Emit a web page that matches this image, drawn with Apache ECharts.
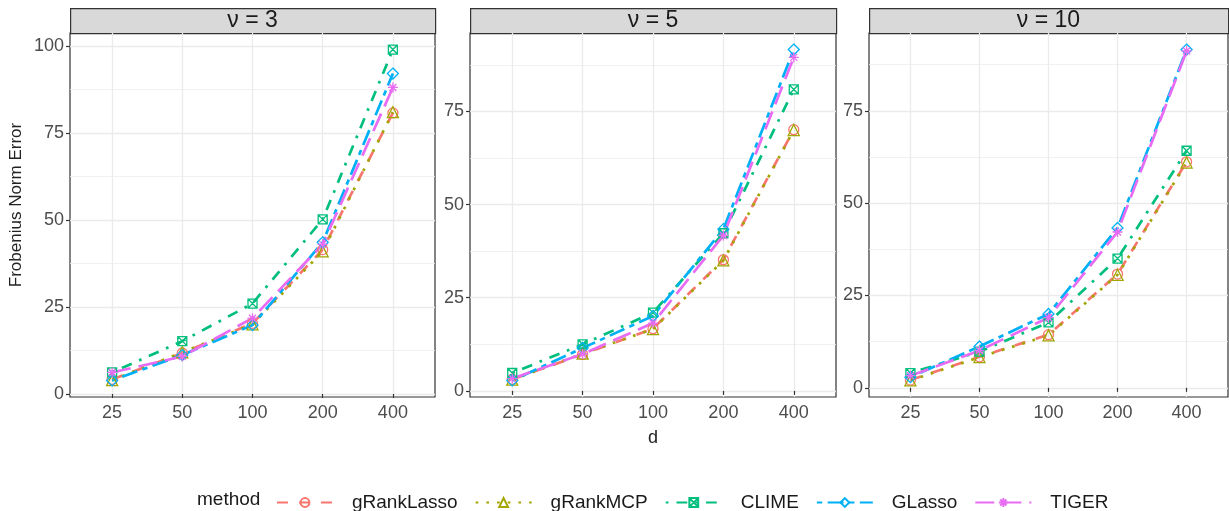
<!DOCTYPE html>
<html lang="en">

<head>
    <meta charset="UTF-8">
    <title>Frobenius Norm Error</title>
    <script src="https://cdn.jsdelivr.net/npm/echarts@6/dist/echarts.min.js"></script>
    <style>
        html, body { margin: 0; padding: 0; background: #fff; }
        #chart { width: 1229px; height: 511px; }
    </style>
</head>

<body>
    <div id="chart"></div>

    <script>
        // data
        var dims = ['25', '50', '100', '200', '400'];
        var panels = ['\u03bd = 3', '\u03bd = 5', '\u03bd = 10'];
        var methods = ['gRankLasso', 'gRankMCP', 'CLIME', 'GLasso', 'TIGER'];

        // one array per panel (nu = 3, 5, 10)
        var gRankLasso = [
            [4.2, 11.8, 20.3, 41.5, 80.8],
            [3.1, 9.8, 16.7, 35.2, 70.1],
            [2.1, 8.4, 14.4, 30.8, 61.2]
        ];
        var gRankMCP = [
            [4.0, 12.0, 20.0, 41.0, 81.0],
            [3.0, 10.0, 16.6, 35.0, 70.0],
            [2.0, 8.3, 14.2, 30.6, 61.0]
        ];
        var CLIME = [
            [6.2, 15.2, 26.0, 50.2, 99.0],
            [4.8, 12.5, 21.0, 42.3, 80.9],
            [4.0, 9.8, 17.7, 35.0, 64.2]
        ];
        var GLasso = [
            [3.9, 11.2, 19.8, 43.6, 92.1],
            [2.8, 11.5, 20.1, 43.4, 91.6],
            [2.9, 11.2, 20.0, 43.3, 91.6]
        ];
        var TIGER = [
            [6.2, 10.8, 21.8, 43.0, 88.1],
            [3.3, 9.9, 18.2, 41.7, 89.5],
            [3.3, 10.1, 19.0, 42.2, 91.2]
        ];
        var yMajor = [[0, 25, 50, 75, 100], [0, 25, 50, 75], [0, 25, 50, 75]];
        var yMinor = [[12.5, 37.5, 62.5, 87.5], [12.5, 37.5, 62.5, 87.5], [12.5, 37.5, 62.5, 87.5]];

        var values = [gRankLasso, gRankMCP, CLIME, GLasso, TIGER];
        var colors = ['#F8766D', '#A3A500', '#00BF7D', '#00B0F6', '#E76BF3'];
        var dashes = [[11, 11], [2.7, 8], [2.7, 8, 10.8, 8], [5.4, 5.4, 16, 5.4], [19, 8]];
        var symbols = [
            'path://M0,-1A1,1 0 1,1 0,1A1,1 0 1,1 0,-1Z',
            'path://M0,-1L1,0.73L-1,0.73Z',
            'path://M-1,-1L1,-1L1,1L-1,1ZM-1,-1L1,1M1,-1L-1,1',
            'path://M0,-1L1,0L0,1L-1,0Z',
            'path://M-1,0L1,0M0,-1L0,1M-0.7,-0.7L0.7,0.7M0.7,-0.7L-0.7,0.7'
        ];
        var symSizes = [10, 11, 9, 11, 10];

        // panel boxes
        var boxes = [
            { left: 70, width: 365 },
            { left: 470, width: 366 },
            { left: 869, width: 359 }
        ];
        var plotTop = 33, plotHeight = 364;
        var font = 'Liberation Sans, Arial, sans-serif';

        var myChart = echarts.init(document.getElementById('chart'));

        var grid = [], xAxis = [], yAxis = [], series = [], graphic = [];

        boxes.forEach(function (b, p) {
            grid.push({
                left: b.left, top: plotTop, width: b.width, height: plotHeight,
                show: true, borderColor: '#333333', borderWidth: 1.2, backgroundColor: '#fff'
            });

            // ggplot-like 5% expansion
            var all = [];
            values.forEach(function (m) { all = all.concat(m[p]); });
            var lo = Math.min.apply(null, all), hi = Math.max.apply(null, all);
            var pad = (hi - lo) * 0.05;

            xAxis.push({
                type: 'value', gridIndex: p, min: 0.4, max: 5.6,
                name: p === 1 ? 'd' : '', nameLocation: 'middle', nameGap: 32,
                nameTextStyle: { fontFamily: font, fontSize: 18, color: '#222' },
                axisLine: { show: false },
                axisTick: { show: true, length: 4, customValues: [1, 2, 3, 4, 5], lineStyle: { color: '#333', width: 1.2 } },
                axisLabel: {
                    customValues: [1, 2, 3, 4, 5], margin: 7,
                    fontFamily: font, fontSize: 18, color: '#4D4D4D',
                    formatter: function (v) { return dims[Math.round(v) - 1]; }
                },
                splitLine: { show: true, lineStyle: { color: '#EBEBEB', width: 1.3 } }
            });
            // major y axis
            yAxis.push({
                type: 'value', gridIndex: p, min: lo - pad, max: hi + pad,
                name: p === 0 ? 'Frobenius Norm Error' : '', nameLocation: 'middle', nameGap: 45,
                nameTextStyle: { fontFamily: font, fontSize: 17, color: '#222', padding: [0, 0, 0, 20] },
                axisLine: { show: false },
                axisTick: { show: true, length: 4, customValues: yMajor[p], lineStyle: { color: '#333', width: 1.2 } },
                axisLabel: { customValues: yMajor[p], margin: 6, fontFamily: font, fontSize: 18, color: '#4D4D4D' },
                splitLine: { show: true, lineStyle: { color: '#EBEBEB', width: 1.3 } }
            });
            // minor grid lines
            yAxis.push({
                type: 'value', gridIndex: p, min: lo - pad, max: hi + pad,
                axisLine: { show: false },
                axisTick: { show: false, customValues: yMinor[p] },
                axisLabel: { show: false },
                splitLine: { show: true, lineStyle: { color: '#EEEEEE', width: 0.8 } }
            });

            methods.forEach(function (name, k) {
                series.push({
                    name: name, type: 'line', xAxisIndex: p, yAxisIndex: 2 * p,
                    data: values[k][p].map(function (v, i) { return [i + 1, v]; }),
                    symbol: symbols[k], symbolSize: symSizes[k],
                    itemStyle: { color: 'none', borderColor: colors[k], borderWidth: 1.3 },
                    lineStyle: { color: colors[k], width: 2.7, type: dashes[k], cap: 'butt' },
                    emphasis: { disabled: true },
                    animation: false
                });
            });

            // strip
            graphic.push({
                type: 'rect', left: b.left, top: 8,
                shape: { width: b.width, height: 25 },
                style: { fill: '#D9D9D9', stroke: '#333333', lineWidth: 1.2 }
            });
            graphic.push({
                type: 'text', x: b.left + b.width / 2, y: 21,
                style: {
                    text: panels[p], font: '23px ' + font, fill: '#1A1A1A',
                    align: 'center', verticalAlign: 'middle'
                }
            });
        });

        graphic.push({
            type: 'text', x: 197, y: 500,
            style: { text: 'method', font: '19px ' + font, fill: '#1A1A1A', verticalAlign: 'middle' }
        });

        var option = {
            backgroundColor: '#fff',
            animation: false,
            grid: grid,
            xAxis: xAxis,
            yAxis: yAxis,
            legend: {
                data: methods, left: 271, top: 488,
                itemWidth: 56, itemHeight: 11, itemGap: 17,
                selectedMode: false,
                textStyle: { fontFamily: font, fontSize: 19, color: '#1A1A1A', padding: [0, 0, 0, 14] }
            },
            graphic: graphic,
            series: series
        };

        myChart.setOption(option);
    </script>
</body>

</html>
